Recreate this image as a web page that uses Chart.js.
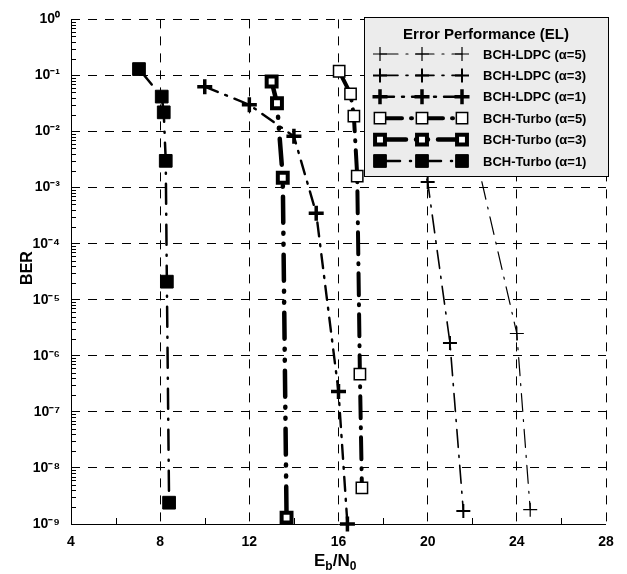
<!DOCTYPE html>
<html><head><meta charset="utf-8">
<script src="https://cdn.jsdelivr.net/npm/chart.js@4"></script>
<style>html,body{margin:0;padding:0;background:#fff}canvas{display:block}</style>
</head><body>
<canvas id="c" width="627" height="574"></canvas>
<script>
// ---- data ----
const seriesNames = ['BCH-LDPC (\u03b1=5)', 'BCH-LDPC (\u03b1=3)', 'BCH-LDPC (\u03b1=1)',
                     'BCH-Turbo (\u03b1=5)', 'BCH-Turbo (\u03b1=3)', 'BCH-Turbo (\u03b1=1)'];
const ldpc5X = [20, 22, 24, 24.6];
const ldpc5Y = [0.05, 7e-3, 2.5e-6, 1.8e-9];
const ldpc3X = [18, 19, 20, 21, 21.6];
const ldpc3Y = [0.07, 0.03, 1.26e-3, 1.7e-6, 1.7e-9];
const ldpc1X = [10, 12, 14, 15, 16, 16.4];
const ldpc1Y = [0.063, 0.030, 0.0082, 3.5e-4, 2.3e-7, 1.0e-9];
const turbo5X = [16.03, 16.54, 16.69, 16.84, 16.96, 17.05];
const turbo5Y = [0.119, 0.047, 0.0188, 1.6e-3, 4.7e-7, 4.4e-9];
const turbo3X = [13.0, 13.24, 13.5, 13.67];
const turbo3Y = [0.078, 0.032, 1.5e-3, 1.3e-9];
const turbo1X = [7.05, 8.07, 8.16, 8.25, 8.3, 8.4];
const turbo1Y = [0.13, 0.042, 0.022, 0.003, 2.1e-5, 2.4e-9];
const xTicks = [4, 8, 12, 16, 20, 24, 28];
const xMinorTicks = [6, 10, 14, 18, 22, 26];
const yTicks = [1, 1e-1, 1e-2, 1e-3, 1e-4, 1e-5, 1e-6, 1e-7, 1e-8, 1e-9];
const legendTitle = 'Error Performance (EL)';
const xTitleMain = ['E', '/N'];
const xTitleSub = ['b', '0'];
const yTitle = 'BER';

// ---- build ----
const pts = (xs, ys) => xs.map((x, i) => ({x, y: ys[i]}));
const SUP = {'-':'\u207b','0':'\u2070','1':'\u00b9','2':'\u00b2','3':'\u00b3','4':'\u2074','5':'\u2075','6':'\u2076','7':'\u2077','8':'\u2078','9':'\u2079'};
const sup = s => String(s).split('').map(c => SUP[c] || c).join('');
const FONT = '"Liberation Sans", Arial, sans-serif';

function ds(label, xs, ys, st) {
  return {
    label, data: pts(xs, ys),
    borderColor: '#000', backgroundColor: '#000',
    borderWidth: st.lw, borderDash: st.dash, borderCapStyle: 'round',
    pointStyle: st.ps, pointRadius: st.r, pointHoverRadius: st.r,
    pointBorderWidth: st.pbw, pointBorderColor: '#000',
    pointBackgroundColor: st.fill, tension: 0, clip: false, fill: false
  };
}
const styles = [
  {lw: 1.2, dash: [18, 8, 2, 8], ps: 'cross', r: 7, pbw: 1.2, fill: '#000'},
  {lw: 1.6, dash: [18, 8, 2, 8], ps: 'cross', r: 7, pbw: 2, fill: '#000'},
  {lw: 2.4, dash: [14, 8, 2, 8], ps: 'cross', r: 7.5, pbw: 3.5, fill: '#000'},
  {lw: 4, dash: [22, 9, 1, 9], ps: 'rect', r: 8, pbw: 1.5, fill: '#fff'},
  {lw: 4.5, dash: [26, 10, 1, 10, 1, 10], ps: 'rect', r: 7, pbw: 4, fill: '#fff'},
  {lw: 2.5, dash: [20, 10, 1, 10], ps: 'rect', r: 9, pbw: 1, fill: '#000'}
];
const datasets = [
  ds(seriesNames[0], ldpc5X, ldpc5Y, styles[0]),
  ds(seriesNames[1], ldpc3X, ldpc3Y, styles[1]),
  ds(seriesNames[2], ldpc1X, ldpc1Y, styles[2]),
  ds(seriesNames[3], turbo5X, turbo5Y, styles[3]),
  ds(seriesNames[4], turbo3X, turbo3Y, styles[4]),
  ds(seriesNames[5], turbo1X, turbo1Y, styles[5])
];

function marker(ctx, st, x, y) {
  ctx.save();
  ctx.setLineDash([]);
  ctx.strokeStyle = '#000';
  ctx.lineWidth = st.pbw;
  if (st.ps === 'rect') {
    const s = st.r * Math.SQRT1_2;
    ctx.fillStyle = st.fill;
    ctx.beginPath(); ctx.rect(x - s, y - s, 2 * s, 2 * s);
    ctx.fill(); ctx.stroke();
  } else {
    ctx.beginPath();
    ctx.moveTo(x - st.r, y); ctx.lineTo(x + st.r, y);
    ctx.moveTo(x, y - st.r); ctx.lineTo(x, y + st.r);
    ctx.stroke();
  }
  ctx.restore();
}

const deco = {
  id: 'deco',
  beforeDraw(chart) {
    const ctx = chart.ctx;
    ctx.save(); ctx.fillStyle = '#fff'; ctx.fillRect(0, 0, chart.width, chart.height); ctx.restore();
  },
  beforeDatasetsDraw(chart) {
    const {ctx, chartArea: a, scales: {x, y}} = chart;
    ctx.save();
    ctx.strokeStyle = '#000'; ctx.lineWidth = 1; ctx.setLineDash([]);
    ctx.beginPath();
    ctx.moveTo(a.left + 0.5, a.top); ctx.lineTo(a.left + 0.5, a.bottom + 0.5);
    ctx.lineTo(a.right, a.bottom + 0.5);
    ctx.stroke();
    ctx.beginPath();
    for (let e = 0; e > -9; e--) {
      for (let m = 2; m <= 9; m++) {
        const py = Math.round(y.getPixelForValue(m * Math.pow(10, e - 1))) + 0.5;
        ctx.moveTo(a.left, py); ctx.lineTo(a.left + 5, py);
      }
    }
    xMinorTicks.forEach(v => {
      const px = Math.round(x.getPixelForValue(v)) + 0.5;
      ctx.moveTo(px, a.bottom); ctx.lineTo(px, a.bottom - 6);
    });
    ctx.stroke();
    ctx.restore();
  },
  afterDatasetsDraw(chart) {
    const ctx = chart.ctx;
    const L = 364, T = 17, R = 608, B = 176;
    ctx.save();
    ctx.fillStyle = '#ececec';
    ctx.fillRect(L, T, R - L, B - T);
    ctx.strokeStyle = '#000'; ctx.lineWidth = 1; ctx.setLineDash([]);
    ctx.strokeRect(L + 0.5, T + 0.5, R - L, B - T);
    ctx.fillStyle = '#000';
    ctx.font = 'bold 15px ' + FONT;
    ctx.textAlign = 'center'; ctx.textBaseline = 'middle';
    ctx.fillText(legendTitle, 486, 35);
    ctx.font = 'bold 13px ' + FONT;
    ctx.textAlign = 'left';
    datasets.forEach((d, i) => {
      const st = styles[i];
      const yy = 54 + i * 21.4;
      ctx.save();
      ctx.strokeStyle = '#000'; ctx.lineWidth = st.lw; ctx.lineCap = 'round';
      ctx.setLineDash(st.dash);
      ctx.beginPath(); ctx.moveTo(380, yy); ctx.lineTo(462, yy); ctx.stroke();
      ctx.restore();
      [380, 422, 462].forEach(px => marker(ctx, st, px, yy));
      ctx.fillStyle = '#000';
      ctx.fillText(d.label, 483, yy + 1);
    });
    ctx.restore();
  },
  afterDraw(chart) {
    const ctx = chart.ctx;
    ctx.save();
    ctx.fillStyle = '#000';
    ctx.translate(28, 268); ctx.rotate(-Math.PI / 2);
    ctx.font = 'bold 16px ' + FONT;
    ctx.textAlign = 'center'; ctx.textBaseline = 'middle';
    ctx.fillText(yTitle, 0, 0);
    ctx.restore();
    ctx.save();
    ctx.fillStyle = '#000'; ctx.textBaseline = 'alphabetic'; ctx.textAlign = 'left';
    let px = 314; const base = 566;
    for (let i = 0; i < xTitleMain.length; i++) {
      ctx.font = 'bold 17px ' + FONT;
      ctx.fillText(xTitleMain[i], px, base);
      px += ctx.measureText(xTitleMain[i]).width;
      ctx.font = 'bold 12px ' + FONT;
      ctx.fillText(xTitleSub[i], px, base + 4);
      px += ctx.measureText(xTitleSub[i]).width;
    }
    ctx.restore();
  }
};

new Chart(document.getElementById('c'), {
  type: 'line',
  data: {datasets},
  options: {
    responsive: false, animation: false, devicePixelRatio: 1,
    layout: {padding: {top: 15, right: 21, left: 0, bottom: 0}},
    plugins: {legend: {display: false}, tooltip: {enabled: false}},
    scales: {
      x: {
        type: 'linear', min: 4, max: 28,
        afterBuildTicks: s => { s.ticks = xTicks.map(v => ({value: v})); },
        afterFit: s => { s.height = 50; },
        ticks: {color: '#000', font: {family: FONT, size: 14, weight: 'bold'}, padding: 10, autoSkip: false, maxRotation: 0},
        grid: {color: '#000', lineWidth: 1, drawTicks: false},
        border: {display: false, dash: [9, 8]}
      },
      y: {
        type: 'logarithmic', min: 1e-9, max: 1,
        afterBuildTicks: s => { s.ticks = yTicks.map(v => ({value: v})); },
        afterFit: s => { s.width = 71; },
        ticks: {color: '#000', font: {family: FONT, size: 14, weight: 'bold'}, padding: 11, autoSkip: false,
          callback: v => '10' + sup(Math.round(Math.log10(v)))},
        grid: {color: '#000', lineWidth: 1, drawTicks: false},
        border: {display: false, dash: [9, 8]}
      }
    }
  },
  plugins: [deco]
});
</script>
</body></html>
